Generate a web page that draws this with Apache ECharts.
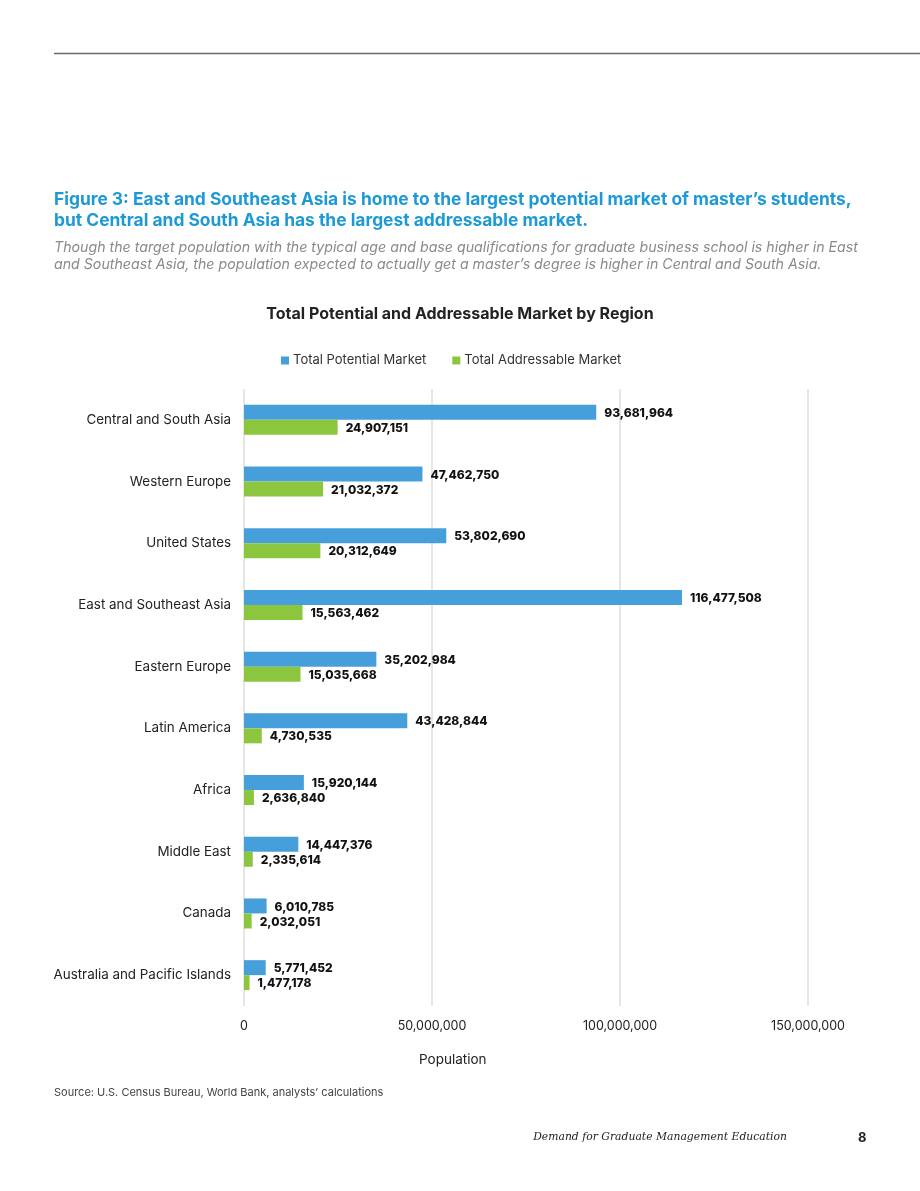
<!DOCTYPE html>
<html><head><meta charset="utf-8">
<script src="https://cdn.jsdelivr.net/npm/echarts@6/dist/echarts.min.js"></script>
<style>html,body{margin:0;padding:0;background:#fff}#c{width:920px;height:1191px}</style>
</head><body><div id="c"></div>
<script>
const categories = ["Central and South Asia","Western Europe","United States","East and Southeast Asia","Eastern Europe","Latin America","Africa","Middle East","Canada","Australia and Pacific Islands"];
const potential = [93681964,47462750,53802690,116477508,35202984,43428844,15920144,14447376,6010785,5771452];
const addressable = [24907151,21032372,20312649,15563462,15035668,4730535,2636840,2335614,2032051,1477178];
const xTicks = [0,50000000,100000000,150000000];

const FONT = 'Inter, "Noto Sans", sans-serif';
const fmt = v => Number(v).toLocaleString('en-US');
const chart = echarts.init(document.getElementById('c'), null, {renderer:'canvas'});
chart.setOption({
  backgroundColor:'#fff',
  animation:false,
  textStyle:{fontFamily:FONT},
  title:[
    {text:"Figure 3: East and Southeast Asia is home to the largest potential market of master’s students,\nbut Central and South Asia has the largest addressable market.",
     left:54, top:189, padding:0, textStyle:{fontFamily:FONT,fontSize:17.4,fontWeight:'bold',color:'#1d9ad6',lineHeight:21}},
    {text:"Though the target population with the typical age and base qualifications for graduate business school is higher in East\nand Southeast Asia, the population expected to actually get a master’s degree is higher in Central and South Asia.",
     left:54, top:239, padding:0, textStyle:{fontFamily:FONT,fontSize:14.2,fontStyle:'italic',fontWeight:'normal',color:'#8a8a8a',lineHeight:17}},
    {text:"Total Potential and Addressable Market by Region", left:'center', top:306, padding:0,
     textStyle:{fontFamily:FONT,fontSize:16,fontWeight:'bold',color:'#222'}},
    {text:"Source: U.S. Census Bureau, World Bank, analysts’ calculations", left:54, top:1087, padding:0,
     textStyle:{fontFamily:FONT,fontSize:11,fontWeight:'normal',color:'#444'}},
    {text:"Demand for Graduate Management Education", right:133, top:1132, padding:0,
     textStyle:{fontFamily:'"DejaVu Serif", serif',fontSize:10.8,fontStyle:'italic',fontWeight:'normal',color:'#222'}},
    {text:"8", left:858, top:1132, padding:0, textStyle:{fontFamily:FONT,fontSize:13,fontWeight:'bold',color:'#222'}}
  ],
  graphic:[
    {type:'line', shape:{x1:54,y1:53.5,x2:920,y2:53.5}, style:{stroke:'#6b6b6b',lineWidth:1.5}},
    {type:'text', left:419, top:1053, style:{text:'Population', fontFamily:FONT, fontSize:13.5, fill:'#222'}}
  ],
  legend:{
    left:276, top:349, itemWidth:8, itemHeight:8, itemGap:26, icon:'rect',
    textStyle:{fontFamily:FONT,fontSize:13,color:'#333',padding:[0,0,0,-1]},
    data:['Total Potential Market','Total Addressable Market']
  },
  grid:{left:244, right:112, top:389, bottom:185, containLabel:false},
  xAxis:{
    type:'value', min:xTicks[0], max:xTicks[xTicks.length-1], interval:xTicks[1]-xTicks[0],
    axisLine:{show:false}, axisTick:{show:false},
    splitLine:{show:true,lineStyle:{color:'#e6e6e6',width:2}},
    axisLabel:{margin:14, fontFamily:FONT, fontSize:12.5, color:'#222', formatter:v=>fmt(v)}
  },
  yAxis:{
    type:'category', data:categories, inverse:true,
    axisLine:{show:false}, axisTick:{show:false},
    axisLabel:{margin:13, fontFamily:FONT, fontSize:13.4, color:'#222'}
  },
  series:[
    {name:'Total Potential Market', type:'bar', data:potential, barWidth:15, barGap:'0%',
     itemStyle:{color:'#469fdb'},
     label:{show:true, position:'right', distance:8, offset:[0,1], formatter:p=>fmt(p.value), fontFamily:FONT, fontSize:12, fontWeight:800, color:'#111'}},
    {name:'Total Addressable Market', type:'bar', data:addressable, barWidth:15,
     itemStyle:{color:'#8cc63f'},
     label:{show:true, position:'right', distance:8, offset:[0,1], formatter:p=>fmt(p.value), fontFamily:FONT, fontSize:12, fontWeight:800, color:'#111'}}
  ]
});
</script></body></html>
